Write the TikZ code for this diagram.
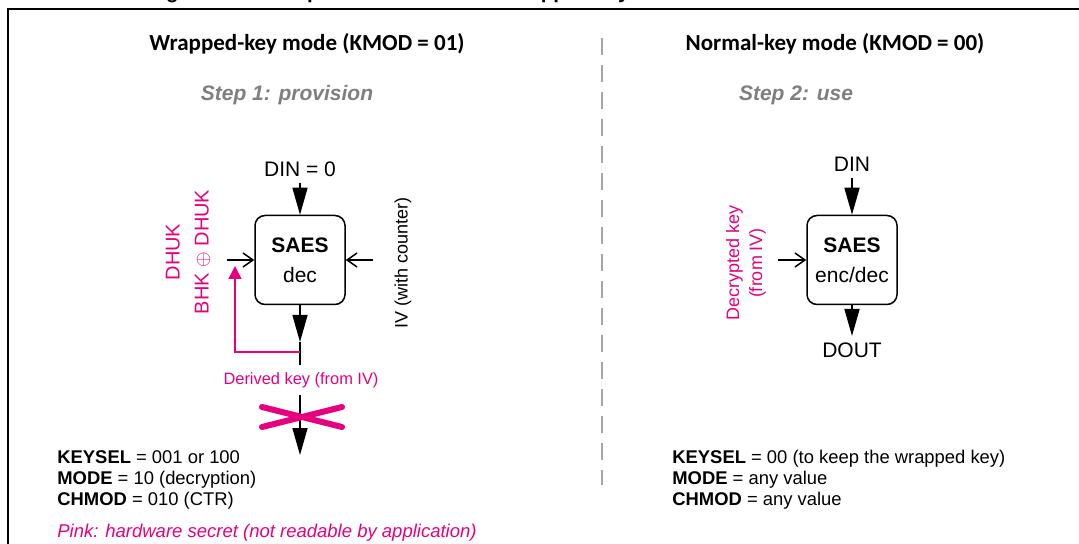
\documentclass[tikz,border=0pt]{standalone}
\usepackage{fontspec}
\setmainfont{Liberation Sans}
\newfontfamily\headfont{Carlito}
\usetikzlibrary{arrows.meta}
\definecolor{hwpink}{HTML}{E6007E}
\definecolor{stepgray}{HTML}{7F7F7F}
\definecolor{divgray}{HTML}{A6A6A6}

\begin{document}
\begin{tikzpicture}[x=0.5pt,y=-0.5pt,>={Triangle[length=13.5pt,width=7.5pt]},
    saesbox/.style={draw,line width=0.75pt,rounded corners=5pt,minimum width=45pt,
        minimum height=44.5pt,align=center,inner sep=0pt,font=\fontsize{10.5}{15}\selectfont},
    sidein/.style={line width=0.75pt,-{Straight Barb[length=5pt,width=7pt]}}]
\useasboundingbox (0,0) rectangle (1079,544);
% caption (cut by the page) and frame
\node[anchor=base west,inner sep=0pt,font=\bfseries\fontsize{10.25}{12}\selectfont] (title)
    at (128,-1) {Usage of SAES to provision and use a wrapped key};
\draw[line width=1pt] (1090,9) -| (8,560);
\draw[divgray,line width=0.75pt,dash pattern=on 8.5pt off 5pt] (602,38) -- (602,485);
\node[font=\headfont\bfseries\fontsize{11.5}{14}\selectfont] (hwrap) at (307,44)
    {Wrapped-key mode (KMOD = 01)};
\node[font=\headfont\bfseries\fontsize{11.5}{14}\selectfont] (hnorm) at (835,44)
    {Normal-key mode (KMOD = 00)};
\node[text=stepgray,font=\bfseries\itshape\fontsize{10.5}{12}\selectfont] (stepa) at (287,95)
    {Step 1: provision};
\node[text=stepgray,font=\bfseries\itshape\fontsize{10.5}{12}\selectfont] (stepb) at (796,95)
    {Step 2: use};

% step 1
\node[saesbox] (sa) at (300,260) {\textbf{SAES}\\dec};
\node[inner sep=3pt,anchor=south,font=\fontsize{10.5}{12}\selectfont] (din) at (300,183) {DIN = 0};
\draw[->,line width=0.75pt] (din) -- (sa);
\coordinate (keysrc) at (227,260);
\coordinate (ivsrc) at (373,260);
\draw[sidein] (keysrc) -- (sa);
\draw[sidein] (ivsrc) -- (sa);
\node[rotate=90,font=\fontsize{9}{11}\selectfont] (iv) at (403,263) {IV (with counter)};
\node[rotate=90,align=center,text=hwpink,font=\fontsize{10}{14.5}\selectfont] (hwkey)
    at (188,252) {DHUK\\BHK $\oplus$ DHUK};
\coordinate (tip) at (300,342);
\draw[->,line width=0.75pt] (sa) -- (tip);
\node[inner sep=3.5pt,text=hwpink,font=\fontsize{8.2}{10}\selectfont] (dkey) at (301,380)
    {Derived key (from IV)};
\draw[line width=0.75pt] (tip) -- (tip |- dkey.north);
\coordinate (keyout) at (300,455);
\draw[->,line width=0.75pt] (keyout |- dkey.south) -- (keyout);
\coordinate (split) at (300,352);
\coordinate (fback) at (235,266);
\draw[hwpink,line width=0.75pt,-{Triangle[length=6.5pt,width=6.5pt]}] (split) -| (fback);
\draw[hwpink,line width=3pt,line cap=round] (262,407) -- (342,427) (262,427) -- (342,407);
\node[anchor=north west,align=left,inner sep=0pt,font=\fontsize{9.2}{10.5}\selectfont] (cfga)
    at (57,450) {\textbf{KEYSEL} = 001 or 100\\\textbf{MODE} = 10 (decryption)\\\textbf{CHMOD} = 010 (CTR)};
\node[anchor=west,inner sep=0pt,text=hwpink,font=\itshape\fontsize{9.25}{11}\selectfont] (note)
    at (57,533) {Pink: hardware secret (not readable by application)};

% step 2
\node[saesbox] (sb) at (852,260) {\textbf{SAES}\\enc/dec};
\node[inner sep=3pt,anchor=south,font=\fontsize{10.5}{12}\selectfont] (dinb) at (852,178) {DIN};
\draw[->,line width=0.75pt] (dinb) -- (sb);
\node[inner sep=3pt,anchor=north,font=\fontsize{10.5}{12}\selectfont] (dout) at (852,336) {DOUT};
\draw[->,line width=0.75pt] (sb) -- (dout);
\coordinate (dksrc) at (778,260);
\draw[sidein] (dksrc) -- (sb);
\node[rotate=90,align=center,text=hwpink,font=\fontsize{9}{11.5}\selectfont] (deckey)
    at (746,263) {Decrypted key\\(from IV)};
\node[anchor=north west,align=left,inner sep=0pt,font=\fontsize{9.2}{10.5}\selectfont] (cfgb)
    at (672,450) {\textbf{KEYSEL} = 00 (to keep the wrapped key)\\\textbf{MODE} = any value\\\textbf{CHMOD} = any value};
\end{tikzpicture}
\end{document}
